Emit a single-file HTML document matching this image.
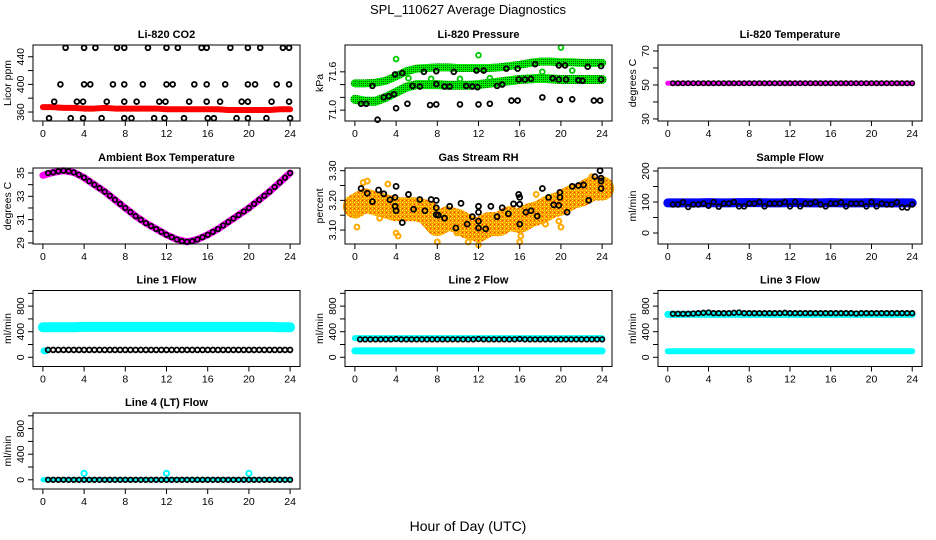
<!DOCTYPE html>
<html><head><meta charset="utf-8">
<style>
html,body{margin:0;padding:0;background:#fff;}
svg{display:block;font-family:"Liberation Sans",Arial,sans-serif;}
</style></head>
<body>
<svg id="chart" width="936" height="540" viewBox="0 0 936 540" xmlns="http://www.w3.org/2000/svg">
<defs>
<pattern id="rhpat" width="4" height="4" patternUnits="userSpaceOnUse">
<rect width="4" height="4" fill="#ff9900"/><rect x="0" y="0" width="1" height="1" fill="#ffff00"/><rect x="2" y="2" width="1" height="1" fill="#ffff00"/><rect x="2" y="0" width="1" height="1" fill="#ff3300"/><rect x="0" y="2" width="1" height="1" fill="#ffdd00"/>
</pattern>
<pattern id="grpat" width="2" height="2" patternUnits="userSpaceOnUse">
<rect width="2" height="2" fill="#00ee00"/><rect x="1" y="1" width="1" height="1" fill="#006600"/>
</pattern>
</defs>
<text x="468" y="14" text-anchor="middle" font-size="13">SPL_110627  Average Diagnostics</text>
<text x="468" y="531" text-anchor="middle" font-size="14">Hour of Day (UTC)</text>
</svg>
<script>
// ---------- data ----------
const hours = [0,1,2,3,4,5,6,7,8,9,10,11,12,13,14,15,16,17,18,19,20,21,22,23,24];
const halfHours = [0.5,1,1.5,2,2.5,3,3.5,4,4.5,5,5.5,6,6.5,7,7.5,8,8.5,9,9.5,10,10.5,11,11.5,12,12.5,13,13.5,14,14.5,15,15.5,16,16.5,17,17.5,18,18.5,19,19.5,20,20.5,21,21.5,22,22.5,23,23.5,24];
const xTickLabels = ["0","4","8","12","16","20","24"];
const xTickValues = [0,4,8,12,16,20,24];

// CO2
const co2Red = [367,367,366,366,365,365,366,365,365,365,365,365,364,364,364,364,364,364,363,363,363,363,363,364,364];
const co2BlackX = [2.2,4.0,5.1,7.2,7.9,10.2,12.0,13.1,15.4,15.9,18.2,19.9,21.1,23.3,23.9,
 1.7,4.0,4.6,6.8,7.9,9.7,12.0,12.6,14.7,15.9,17.7,19.9,20.6,22.7,23.9,
 1.1,3.3,3.9,6.2,7.9,9.1,11.3,11.9,14.2,15.9,17.2,19.3,19.9,22.2,23.9,
 0.6,2.7,3.9,5.7,7.9,8.6,10.8,11.8,13.7,16.0,16.6,18.8,19.9,21.7,24.0];
const co2BlackY = [453,453,453,453,453,453,453,453,453,453,453,453,453,453,453,
 400,400,400,400,400,400,400,400,400,400,400,400,400,400,400,
 375,375,375,375,375,375,375,375,375,375,375,375,375,375,375,
 351,351,351,351,351,351,351,351,351,351,351,351,351,351,351];

// Pressure
const presUpper = [71.42,71.42,71.43,71.46,71.53,71.61,71.65,71.66,71.67,71.67,71.66,71.66,71.66,71.66,71.67,71.69,71.71,71.74,71.76,71.76,71.75,71.75,71.74,71.74,71.74];
const presLower = [71.17,71.14,71.14,71.2,71.28,71.36,71.4,71.4,71.4,71.39,71.39,71.39,71.4,71.42,71.44,71.46,71.48,71.49,71.5,71.49,71.48,71.48,71.48,71.48,71.48];
const presGreenOutX = [4,12,20,0.1,5.2,7.4,10.2,13.1,18.2,21.1];
const presGreenOutY = [71.8,71.86,71.98,71.43,71.5,71.49,71.49,71.5,71.6,71.62];
const presBlackX = [0.6,1.1,2.2,4,5.1,7.3,7.9,10.2,12,13.1,15.2,15.8,18.2,19.9,21.1,23.2,23.8,
 2.8,3.3,3.8,5.6,6.3,7.9,8.7,9.2,10.8,11.4,11.9,13.8,14.3,15.9,16.5,17.1,19.2,19.8,20.5,21.7,22.1,23.9,
 1.7,3.9,4.6,6.7,7.9,9.6,11.8,12.5,14.7,15.8,17.5,19.8,20.4,22.6,23.9];
const presBlackY = [71.1,71.1,70.85,71.03,71.1,71.08,71.09,71.09,71.09,71.1,71.15,71.15,71.2,71.16,71.17,71.15,71.15,
 71.2,71.22,71.25,71.38,71.37,71.41,71.37,71.37,71.38,71.37,71.36,71.38,71.4,71.48,71.48,71.49,71.5,71.48,71.48,71.47,71.46,71.48,
 71.38,71.56,71.58,71.6,71.61,71.6,71.62,71.62,71.65,71.65,71.72,71.7,71.7,71.68,71.69];

// Li-820 temperature
const tempMagenta = [51,51,51,51,51,51,51,51,51,51,51,51,51,51,51,51,51,51,51,51,51,51,51,51,51];
const tempBlack = [51,51,51,51,51,51,51,51,51,51,51,51,51,51,51,51,51,51,51,51,51,51,51,51,51,51,51,51,51,51,51,51,51,51,51,51,51,51,51,51,51,51,51,51,51,51,51,51];

// Ambient box temperature
const ambMagenta = [34.8,35.05,35.2,35.05,34.6,34.0,33.4,32.7,32.0,31.3,30.7,30.2,29.7,29.3,29.1,29.3,29.7,30.2,30.8,31.4,32.0,32.7,33.4,34.2,35.0];
const ambBlack = [35.0,35.05,35.15,35.2,35.15,35.05,34.85,34.6,34.3,34.0,33.7,33.4,33.05,32.7,32.35,32.0,31.65,31.3,31.0,30.7,30.45,30.2,29.95,29.7,29.5,29.3,29.15,29.1,29.15,29.3,29.5,29.7,29.95,30.2,30.5,30.8,31.1,31.4,31.7,32.0,32.35,32.7,33.05,33.4,33.8,34.2,34.6,35.0];

// Gas stream RH
const rhBand = [3.18,3.2,3.19,3.18,3.17,3.17,3.17,3.16,3.12,3.14,3.13,3.11,3.1,3.12,3.12,3.14,3.13,3.15,3.16,3.18,3.19,3.21,3.22,3.24,3.24];
const rhOutX = [0.2,0.8,1.2,2.4,3.2,4,4.2,9.9,12,16,17.6,18.5,19.8,20,23,0.1,8,11,16.1];
const rhOutY = [3.11,3.26,3.265,3.14,3.255,3.09,3.08,3.09,3.05,3.06,3.22,3.12,3.13,3.11,3.28,3.15,3.06,3.06,3.08];
const rhBlackX = [0.6,1.2,1.7,2.3,2.8,3.4,4.0,3.9,3.9,4.0,4.6,5.2,5.7,6.3,6.8,7.4,7.9,7.9,7.9,8.1,8.7,9.2,9.8,10.3,10.9,11.4,12,12,12,12,12.7,13.2,13.8,14.3,14.9,15.4,15.9,16,16,16,16.6,17.1,17.7,18.2,18.8,19.3,19.8,19.9,19.9,20.6,21.1,21.7,22.2,22.7,23.3,23.8,23.9,23.9,23.9];
const rhBlackY = [3.24,3.224,3.196,3.235,3.222,3.202,3.247,3.21,3.18,3.165,3.125,3.22,3.17,3.203,3.165,3.203,3.2,3.175,3.152,3.15,3.14,3.18,3.107,3.19,3.12,3.145,3.18,3.16,3.13,3.107,3.104,3.18,3.145,3.175,3.155,3.188,3.22,3.21,3.187,3.12,3.16,3.165,3.147,3.24,3.21,3.185,3.183,3.227,3.21,3.16,3.247,3.25,3.252,3.2,3.28,3.30,3.275,3.265,3.24];

// Sample flow
const sampleBlue = [97,97,97,97,98,97,97,98,98,98,97,97,98,98,97,97,98,97,97,97,98,97,97,97,97];
const sampleBlack = [92,92,99,84,92,92,95,88,100,85,95,95,100,86,86,95,95,100,86,95,95,95,100,86,100,86,95,95,100,92,86,95,95,99,86,95,95,95,86,100,86,95,92,92,99,83,82,92];

// Line flows
const line1Cyan = [470,470,470,470,475,475,475,475,475,475,475,475,475,475,475,475,475,475,475,475,475,475,475,470,470];
const line1CyanStartX = [0.1,0.2,0.3];
const line1CyanStartY = [100,100,100];
const line1Black = [115,115,115,115,115,115,115,115,115,115,115,115,115,115,115,115,115,115,115,115,115,115,115,115,115,115,115,115,115,115,115,115,115,115,115,115,115,115,115,115,115,115,115,115,115,115,115,115];
const line2CyanHi = [300,300,300,300,300,300,300,300,300,300,300,300,300,300,300,300,300,300,300,300,300,300,300,300,300];
const line2CyanLo = [100,100,100,100,100,100,100,100,100,100,100,100,100,100,100,100,100,100,100,100,100,100,100,100,100];
const line2Black = [280,280,280,280,280,280,280,285,280,280,280,280,280,280,280,280,280,280,280,280,280,280,280,285,280,280,280,280,280,280,280,285,280,280,280,280,280,280,280,280,280,280,280,280,280,280,280,280];
const line3CyanHi = [670,670,670,670,670,670,670,670,670,670,670,670,670,670,670,670,670,670,670,670,670,670,670,670,670];
const line3CyanLo = [95,95,95,95,95,95,95,95,95,95,95,95,95,95,95,95,95,95,95,95,95,95,95,95,95];
const line3Black = [680,680,680,680,685,690,695,700,690,690,690,690,695,700,690,690,690,690,690,690,690,690,695,690,690,690,690,690,690,690,690,690,690,690,690,690,685,690,690,690,690,690,690,690,690,690,690,690];
const line4Cyan = [0,0,0,0,0,0,0,0,0,0,0,0,0,0,0,0,0,0,0,0,0,0,0,0,0];
const line4OutX = [4,12,20];
const line4OutY = [100,100,100];
const line4Black = [0,0,0,0,0,0,0,0,0,0,0,0,0,0,0,0,0,0,0,0,0,0,0,0,0,0,0,0,0,0,0,0,0,0,0,0,0,0,0,0,0,0,0,0,0,0,0,0];

const flowTicks = [0,200,400,600,800,1000];
const flowLabels = ["0","","400","","800",""];

// ---------- drawing ----------
const NS = "http://www.w3.org/2000/svg";
const svg = document.getElementById("chart");
const cols = [[33,300],[345,612],[658,922]];
const rows = [45,168,290.5,413];
const PH = 76;

function mk(tag, parent){ const e = document.createElementNS(NS, tag); parent.appendChild(e); return e; }

function panel(spec){
  const g = mk("g", svg);
  
  
  const [L,R] = cols[spec.col]; const T = rows[spec.row]; const B = T + PH;
  const xs = h => L + (h + 0.96) / 25.92 * (R - L);
  const ys = v => B - (v - spec.ymin) / (spec.ymax - spec.ymin) * PH;
  spec.draw(g, xs, ys);
  const box = mk("rect", g);
  
  
  box.setAttribute("x", L); box.setAttribute("y", T); box.setAttribute("width", R-L); box.setAttribute("height", PH);
  box.setAttribute("fill", "none"); box.setAttribute("stroke", "#000"); box.setAttribute("stroke-width", "1");
  const t = mk("text", g);
  
  
  t.setAttribute("x", (L+R)/2); t.setAttribute("y", T-7); t.setAttribute("text-anchor","middle");
  t.setAttribute("font-size","11"); t.setAttribute("font-weight","bold"); t.textContent = spec.title;
  const xa = mk("g", g);
  
  
  const xl = mk("line", xa);
  xl.setAttribute("x1", xs(0)); xl.setAttribute("x2", xs(24)); xl.setAttribute("y1", B); xl.setAttribute("y2", B); xl.setAttribute("stroke","#000");
  xTickValues.forEach((v,i) => {
    const tk = mk("line", xa);
    tk.setAttribute("x1", xs(v)); tk.setAttribute("x2", xs(v)); tk.setAttribute("y1", B); tk.setAttribute("y2", B+5); tk.setAttribute("stroke","#000");
    const tl = mk("text", xa);
    
    
    tl.setAttribute("x", xs(v)); tl.setAttribute("y", B+16); tl.setAttribute("text-anchor","middle"); tl.setAttribute("font-size","10.5");
    tl.textContent = xTickLabels[i];
  });
  const ya = mk("g", g);
  
  
  const t0 = spec.ticks[0], t1 = spec.ticks[spec.ticks.length-1];
  const yl = mk("line", ya);
  yl.setAttribute("x1", L); yl.setAttribute("x2", L); yl.setAttribute("y1", ys(t0)); yl.setAttribute("y2", ys(t1)); yl.setAttribute("stroke","#000");
  spec.ticks.forEach((v,i) => {
    const tk = mk("line", ya);
    tk.setAttribute("x1", L-5); tk.setAttribute("x2", L); tk.setAttribute("y1", ys(v)); tk.setAttribute("y2", ys(v)); tk.setAttribute("stroke","#000");
    if (spec.labels[i]) {
      const tl = mk("text", ya);
      
      
      tl.setAttribute("transform", `translate(${L-9},${ys(v)}) rotate(-90)`);
      tl.setAttribute("text-anchor","middle"); tl.setAttribute("font-size","10.5");
      tl.textContent = spec.labels[i];
    }
  });
  const yt = mk("text", ya);
  
  
  yt.setAttribute("transform", `translate(${L-22},${T+PH/2}) rotate(-90)`);
  yt.setAttribute("text-anchor","middle"); yt.setAttribute("font-size","10.5");
  yt.textContent = spec.ylab;
}

function band(g, xs, ys, xArr, yArr, color, w, name){
  const p = mk("polyline", g);
  
  
  p.setAttribute("points", xArr.map((x,i) => xs(x)+","+ys(yArr[i])).join(" "));
  p.setAttribute("fill","none"); p.setAttribute("stroke", color); p.setAttribute("stroke-width", w);
  p.setAttribute("stroke-linecap","round"); p.setAttribute("stroke-linejoin","round");
}
function pts(g, xs, ys, xArr, yArr, color, name, r, sw){
  const gg = mk("g", g);
  
  
  xArr.forEach((x,i) => {
    const c = mk("circle", gg);
    c.setAttribute("cx", xs(x)); c.setAttribute("cy", ys(yArr[i])); c.setAttribute("r", r || 2.4);
    c.setAttribute("fill","none"); c.setAttribute("stroke", color); c.setAttribute("stroke-width", sw || 1.8);
  });
}

panel({name:"panel-co2", col:0, row:0, title:"Li-820 CO2", ylab:"Licor ppm", ymin:347, ymax:457,
  ticks:[360,380,400,420,440], labels:["360","","400","","440"],
  draw:(g,xs,ys)=>{ band(g,xs,ys,hours,co2Red,"#ff0000",6,"co2-red-series"); pts(g,xs,ys,co2BlackX,co2BlackY,"#000","co2-black-points"); }});

panel({name:"panel-pressure", col:1, row:0, title:"Li-820 Pressure", ylab:"kPa", ymin:70.83, ymax:72.02,
  ticks:[71.0,71.2,71.4,71.6], labels:["71.0","","","71.6"],
  draw:(g,xs,ys)=>{ band(g,xs,ys,hours,presUpper,"url(#grpat)",8,"pressure-upper-band"); band(g,xs,ys,hours,presLower,"url(#grpat)",9,"pressure-lower-band");
    pts(g,xs,ys,presGreenOutX,presGreenOutY,"#00cc00","pressure-green-outliers");
    pts(g,xs,ys,presBlackX,presBlackY,"#000","pressure-black-points"); }});

panel({name:"panel-li820-temp", col:2, row:0, title:"Li-820 Temperature", ylab:"degrees C", ymin:28.8, ymax:73.5,
  ticks:[30,40,50,60,70], labels:["30","","50","","70"],
  draw:(g,xs,ys)=>{ band(g,xs,ys,hours,tempMagenta,"#ff00ff",5,"temp-magenta-series"); pts(g,xs,ys,halfHours,tempBlack,"#000","temp-black-points",2.2,1.5); }});

panel({name:"panel-ambient-temp", col:0, row:1, title:"Ambient Box Temperature", ylab:"degrees C", ymin:28.91, ymax:35.43,
  ticks:[29,30,31,32,33,34,35], labels:["29","","31","","33","","35"],
  draw:(g,xs,ys)=>{ band(g,xs,ys,hours,ambMagenta,"#ff00ff",7,"ambient-magenta-series"); pts(g,xs,ys,halfHours,ambBlack,"#000","ambient-black-points",2.3,1.7); }});

panel({name:"panel-rh", col:1, row:1, title:"Gas Stream RH", ylab:"percent", ymin:3.053, ymax:3.309,
  ticks:[3.10,3.15,3.20,3.25,3.30], labels:["3.10","","3.20","","3.30"],
  draw:(g,xs,ys)=>{ band(g,xs,ys,hours,rhBand,"url(#rhpat)",24,"rh-orange-band");
    pts(g,xs,ys,rhOutX,rhOutY,"#ffaa00","rh-orange-outliers",2.4,2);
    pts(g,xs,ys,rhBlackX,rhBlackY,"#000","rh-black-points",2.5,1.8); }});

panel({name:"panel-sample-flow", col:2, row:1, title:"Sample Flow", ylab:"ml/min", ymin:-35.5, ymax:209.7,
  ticks:[0,50,100,150,200], labels:["0","","100","","200"],
  draw:(g,xs,ys)=>{ band(g,xs,ys,hours,sampleBlue,"#0000ff",9,"sample-blue-series"); pts(g,xs,ys,halfHours,sampleBlack,"#000","sample-black-points",2.4,1.7); }});

panel({name:"panel-line1-flow", col:0, row:2, title:"Line 1 Flow", ylab:"ml/min", ymin:-144, ymax:1044,
  ticks:flowTicks, labels:flowLabels,
  draw:(g,xs,ys)=>{ band(g,xs,ys,hours,line1Cyan,"#00ffff",10,"line1-cyan-series");
    pts(g,xs,ys,line1CyanStartX,line1CyanStartY,"#00ffff","line1-cyan-start",2.4,2);
    pts(g,xs,ys,halfHours,line1Black,"#000","line1-black-points",2.4,1.8); }});

panel({name:"panel-line2-flow", col:1, row:2, title:"Line 2 Flow", ylab:"ml/min", ymin:-144, ymax:1044,
  ticks:flowTicks, labels:flowLabels,
  draw:(g,xs,ys)=>{ band(g,xs,ys,hours,line2CyanHi,"#00ffff",6,"line2-cyan-high"); band(g,xs,ys,hours,line2CyanLo,"#00ffff",7,"line2-cyan-low");
    pts(g,xs,ys,halfHours,line2Black,"#000","line2-black-points",2.3,1.7); }});

panel({name:"panel-line3-flow", col:2, row:2, title:"Line 3 Flow", ylab:"ml/min", ymin:-144, ymax:1044,
  ticks:flowTicks, labels:flowLabels,
  draw:(g,xs,ys)=>{ band(g,xs,ys,hours,line3CyanHi,"#00ffff",7,"line3-cyan-high"); band(g,xs,ys,hours,line3CyanLo,"#00ffff",6,"line3-cyan-low");
    pts(g,xs,ys,halfHours,line3Black,"#000","line3-black-points",2.3,1.7); }});

panel({name:"panel-line4-flow", col:0, row:3, title:"Line 4 (LT) Flow", ylab:"ml/min", ymin:-144, ymax:1044,
  ticks:flowTicks, labels:flowLabels,
  draw:(g,xs,ys)=>{ band(g,xs,ys,hours,line4Cyan,"#00ffff",5,"line4-cyan-series");
    pts(g,xs,ys,line4OutX,line4OutY,"#00ffff","line4-cyan-outliers",2.6,2);
    pts(g,xs,ys,halfHours,line4Black,"#000","line4-black-points",2.3,1.7); }});
</script>
</body></html>
